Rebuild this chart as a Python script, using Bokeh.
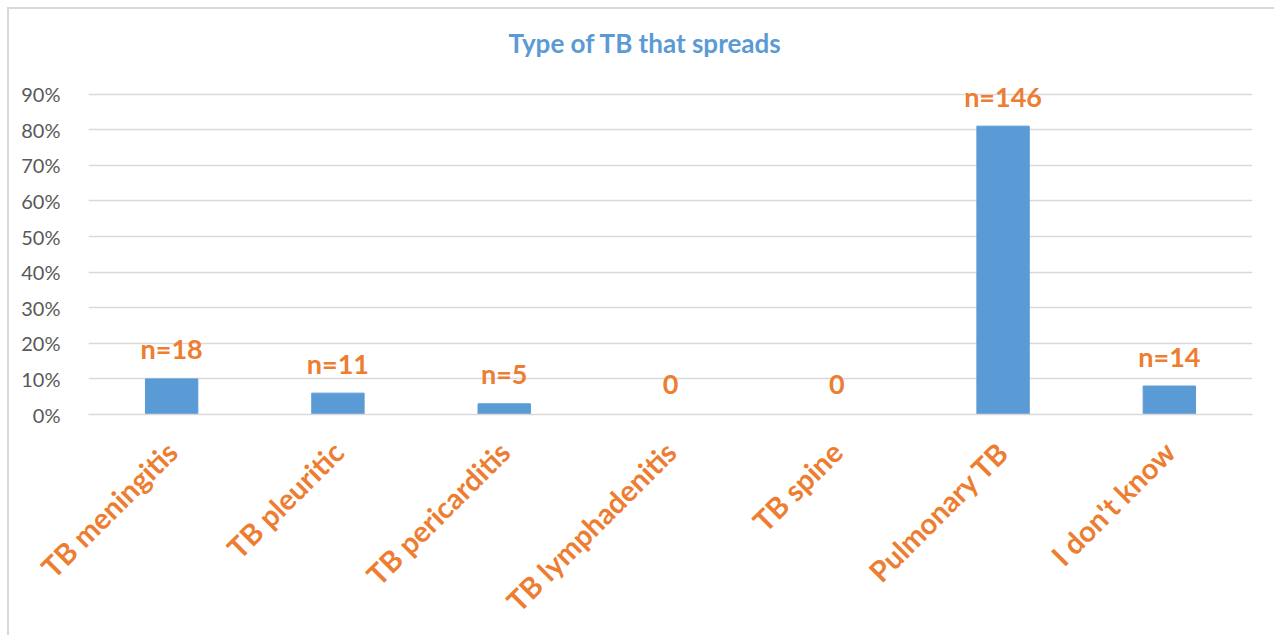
import math
from bokeh.plotting import figure
from bokeh.models import ColumnDataSource, FixedTicker, NumeralTickFormatter, FactorRange
from bokeh.core.properties import value
from bokeh.embed import file_html
from bokeh.resources import INLINE

categories = ["TB meningitis", "TB pleuritic", "TB pericarditis", "TB lymphadenitis",
              "TB spine", "Pulmonary TB", "I don't know"]
shares = [0.10, 0.06, 0.03, 0.0, 0.0, 0.81, 0.08]
counts = ["n=18", "n=11", "n=5", "0", "0", "n=146", "n=14"]
y_ticks = [0.0, 0.1, 0.2, 0.3, 0.4, 0.5, 0.6, 0.7, 0.8, 0.9]

BLUE = "#5B9BD5"
ORANGE = "#ED7D31"
GRID = "#D9D9D9"
TICK = "#595959"
FONT = "Lato"

src = ColumnDataSource(dict(cat=categories, val=shares, lab=counts))

p = figure(x_range=FactorRange(*categories), y_range=(0, 1.0),
           width=1267, height=628, output_backend="svg", toolbar_location=None,
           min_border_left=79, min_border_right=24, min_border_top=49, min_border_bottom=223,
           title="Type of TB that spreads")
p.styles = {"border-left": "2px solid #D9D9D9", "border-top": "2px solid #D9D9D9",
            "margin-left": "7px", "margin-top": "7px"}
p.outline_line_color = None

p.title.text_font = FONT
p.title.text_font_size = "26px"
p.title.text_font_style = "bold"
p.title.text_color = BLUE
p.title.align = "left"
p.title.offset = 420
p.title.standoff = 0

p.vbar(x="cat", top="val", width=0.315, source=src, fill_color=BLUE, line_color=BLUE)
p.text(x="cat", y="val", text="lab", source=src, y_offset=-30,
       text_align="center", text_baseline="alphabetic",
       text_font=value(FONT), text_font_size="27px", text_font_style="bold",
       text_color=ORANGE)

p.xgrid.grid_line_color = None
p.ygrid.grid_line_color = GRID
p.ygrid.grid_line_width = 1.5
p.yaxis.ticker = FixedTicker(ticks=y_ticks)
p.yaxis.formatter = NumeralTickFormatter(format="0%")
p.yaxis.axis_line_color = None
p.yaxis.major_tick_line_color = None
p.yaxis.minor_tick_line_color = None
p.yaxis.major_label_text_font = FONT
p.yaxis.major_label_text_font_size = "20px"
p.yaxis.major_label_text_color = TICK
p.yaxis.major_label_standoff = 22

p.xaxis.axis_line_color = GRID
p.xaxis.axis_line_width = 1.5
p.xaxis.major_tick_line_color = None
p.xaxis.minor_tick_line_color = None
p.xaxis.major_label_orientation = math.pi / 4
p.xaxis.major_label_text_font = FONT
p.xaxis.major_label_text_font_size = "29px"
p.xaxis.major_label_text_font_style = "bold"
p.xaxis.major_label_text_color = ORANGE
p.xaxis.major_label_standoff = 26

open("out.html", "w").write(file_html(p, INLINE))
